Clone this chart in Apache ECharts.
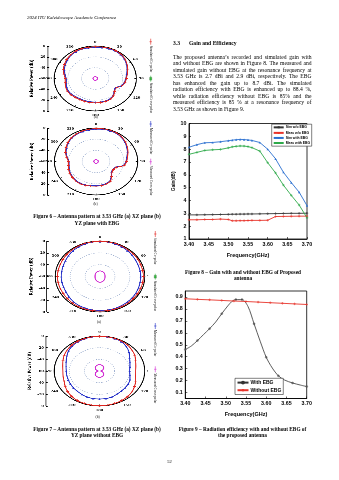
<!DOCTYPE html>
<html><head><meta charset="utf-8">
<script src="https://cdn.jsdelivr.net/npm/echarts@6/dist/echarts.min.js"></script>
<style>
html,body{margin:0;padding:0;background:#fff;overflow:hidden;}
#main{position:absolute;left:0;top:0;width:339px;height:480px;}
.pol{position:absolute;transform-origin:0 0;}
</style></head>
<body>
<div id="main"></div>
<div id="p6a" class="pol"></div><div id="p6b" class="pol"></div>
<div id="p7a" class="pol"></div><div id="p7b" class="pol"></div>
<script>
// ---------------- DATA ----------------
const angles10 = [0,10,20,30,40,50,60,70,80,90,100,110,120,130,140,150,160,170,180,190,200,210,220,230,240,250,260,270,280,290,300,310,320,330,340,350];
const angles30 = [0,30,60,90,120,150,180,210,240,270,300,330];
const angles15 = [0,15,30,45,60,75,90,105,120,135,150,165,180,195,210,225,240,255,270,285,300,315,330,345];

// Figure 6(a) XZ plane with EBG
const fig6aSimCo  = [-1.5,-1,-0.5,-0.5,-1.5,-3.5,-6.5,-9.5,-12.5,-14.5,-16,-19,-25,-23,-18.5,-16,-15,-15,-15,-15,-15,-15,-14.5,-13.5,-13,-14,-15.5,-16,-13.5,-10.5,-8,-5.5,-3.5,-2,-1.5,-1.5];
const fig6aMeasCo = [-2.5,-2,-1.5,-1.5,-2.5,-4.5,-7.5,-10.5,-13.5,-15.5,-17,-20,-26,-24,-19.5,-17,-16,-16,-16.5,-16.5,-16.5,-16.5,-16,-15,-14.5,-15.5,-17,-17.5,-15,-12,-9.5,-7,-4.5,-3,-2.5,-2.5];
const fig6aCross  = [-56.7,-56.8,-56.6,-56.7,-56.8,-56.7,-56.6,-56.7,-56.8,-56.7,-56.6,-56.7];
// Figure 6(b) YZ plane with EBG
const fig6bSimCo  = [-1,-0.5,-0.5,-1,-2.5,-5,-8,-11,-14,-16,-19,-29,-31,-30,-25,-19,-17,-16,-16,-15.5,-14.5,-14,-14.5,-15.5,-16.5,-18,-19.5,-20,-17,-13,-10,-7,-4.5,-3,-2,-1.5];
const fig6bMeasCo = [-2,-1.5,-1.5,-2,-3.5,-6,-9,-12,-15,-17,-20,-30,-32,-31,-26,-20,-18,-17,-17,-16.5,-15.5,-15,-15.5,-16.5,-17.5,-19,-20.5,-21,-18,-14,-11,-8,-5.5,-4,-3,-2.5];
const fig6bCross  = [-56.8,-56.9,-56.7,-56.8,-56.9,-56.8,-56.7,-56.8,-56.9,-56.8,-56.7,-56.8];
// Figure 7(a) XZ plane without EBG
const fig7aSimCo  = [-0.5,-0.5,-0.5,-1,-1.5,-1.5,-1.5,-2,-2,-2,-2,-2,-2,-2,-1.5,-1.5,-1.5,-1.5,-1.5,-1.5,-1.5,-1.5,-2,-2.5,-3,-3,-3,-3,-3,-3,-2.5,-2,-1.5,-1,-0.5,-0.5];
const fig7aMeasCo = [-1,-1,-1.5,-2,-3,-4,-5,-5.5,-5.5,-5.5,-5.5,-5,-4.5,-4,-3.5,-3,-2.5,-2.5,-2.5,-2.5,-3,-3.5,-4.5,-6,-7.5,-8,-8,-8,-8,-7.5,-6.5,-5,-3.5,-2.5,-1.5,-1];
const fig7aCross  = [-50.4,-51.3,-52.6,-53.3,-52.6,-51.3,-50.4,-51.3,-52.6,-53.3,-52.6,-51.3];
// Figure 7(b) YZ plane without EBG
const fig7bSimCo  = [-0.5,-0.5,-0.5,-1,-2,-4,-6,-9,-11,-12,-11.5,-9,-6.5,-4,-2.5,-1.5,-1,-0.5,-0.5,-0.5,-1,-1.5,-3,-5,-7.5,-10,-11,-11.5,-10.5,-8.5,-6,-4,-2.5,-1.5,-1,-0.5];
const fig7bMeasCo = [-0.5,-0.5,-1,-2,-5,-9,-14,-17,-19,-20,-19,-17,-16,-15.5,-15,-14,-12.5,-12,-12,-12,-12.5,-13.5,-14.5,-15,-15.5,-16,-16,-16,-15,-13,-10,-6.5,-4,-2.5,-1.5,-1];
const fig7bCross  = [-49.2,-49.5,-50.4,-52.2,-54.3,-56.7,-58.2,-56.7,-54.3,-52.2,-50.4,-49.5,-49.2,-49.5,-50.4,-52.2,-54.3,-56.7,-58.2,-56.7,-54.3,-52.2,-50.4,-49.5];

// Figure 8 gain
const gainFreq     = [3.40,3.42,3.44,3.46,3.48,3.50,3.51,3.52,3.53,3.54,3.55,3.56,3.58,3.60,3.62,3.64,3.66,3.68,3.70];
const gainSimNoEbg = [2.88,2.88,2.89,2.90,2.91,2.92,2.93,2.93,2.94,2.94,2.95,2.95,2.96,2.97,2.98,2.99,3.00,3.00,3.01];
const gainMeasNoEbg= [2.50,2.50,2.52,2.52,2.55,2.52,2.42,2.42,2.43,2.43,2.44,2.45,2.45,2.46,2.75,2.76,2.77,2.78,2.78];
const gainSimEbg   = [8.15,8.35,8.50,8.52,8.58,8.66,8.70,8.74,8.76,8.75,8.72,8.68,8.52,8.00,7.25,6.20,5.40,4.65,3.60];
const gainMeasEbg  = [7.60,7.75,7.90,7.95,7.98,8.10,8.18,8.22,8.25,8.24,8.20,8.12,7.85,6.95,6.15,5.20,4.40,3.65,2.65];
const gainNames = ['Sim w/o EBG','Meas w/o EBG','Sim with EBG','Meas with EBG'];

// Figure 9 efficiency
const effFreq    = [3.400,3.415,3.430,3.445,3.460,3.475,3.490,3.505,3.515,3.525,3.540,3.555,3.570,3.585,3.600,3.615,3.630,3.645,3.665,3.685,3.700];
const effWithEbg = [0.460,0.490,0.535,0.585,0.635,0.690,0.760,0.825,0.862,0.878,0.878,0.820,0.675,0.530,0.395,0.305,0.240,0.205,0.180,0.162,0.150];
const effMarkIdx = [0,2,4,6,9,10,12,14,16,18,20];
const effNoFreq  = [3.40,3.43,3.46,3.49,3.52,3.55,3.58,3.61,3.64,3.67,3.70];
const effNoEbg   = [0.885,0.880,0.876,0.871,0.866,0.862,0.857,0.852,0.847,0.842,0.837];
const effTicksY  = [0.1,0.2,0.3,0.4,0.5,0.6,0.7,0.8,0.9];
const effNames = ['With EBG','Without EBG'];

// ---------------- TEXT ----------------
const headerText = '2024 ITU Kaleidoscope Academic Conference';
const paraLines = [
 'The proposed antenna\u2019s recorded and simulated gain with',
 'and without EBG are shown in Figure 8. The measured and',
 'simulated gain without EBG at the resonance frequency at',
 '3.53 GHz is 2.7 dBi and 2.9 dBi, respectively. The EBG',
 'has enhanced the gain up to 8.7 dBi. The simulated',
 'radiation efficiency with EBG is enhanced up to 88.4 %,',
 'while radiation efficiency without EBG is 85%  and the',
 'measured efficiency is 85 % at a resonance frequency of',
 '3.53 GHz as shown in Figure 9.'
];

// ---------------- COLOURS ----------------
const RED='#e0241e', BLUE='#2430c8', MAG='#d22ed2', GRN='#2fc23a';
const crossSym = 'path://M0,5L10,5M5,0L5,10';

// ---------------- POLAR FIGURES ----------------
function pdata(vals, angs){ const d = angs.map((a,i)=>[vals[i], a]); d.push([vals[0], 360]); return d; }

function polarFig(id, f){
  const s = f.rx / f.ry;
  const X0 = 22, X1 = 148;
  const top = f.cy - f.ry - 8, H = 2*f.ry + 16;
  const W = (X1 - X0) / s;
  const el = document.getElementById(id);
  el.style.left = X0+'px'; el.style.top = top+'px';
  el.style.width = W+'px'; el.style.height = H+'px';
  el.style.transform = 'scaleX('+s+')';
  const ch = echarts.init(el, null, {width:W, height:H, devicePixelRatio:3});
  const cxL = (f.cx - X0)/s, cyL = f.cy - top;
  const axL = (f.axisX - X0)/s;
  const lab = {fontFamily:'Liberation Serif', fontWeight:'bold', fontSize:3.8, color:'#000'};
  ch.setOption({
    animation:false,
    polar:{center:[cxL, cyL], radius:f.ry},
    angleAxis:{type:'value', min:0, max:360, interval:30, startAngle:90, clockwise:true,
      axisLine:{lineStyle:{color:'#000', width:0.8}},
      axisTick:{show:true, inside:true, length:1.5, lineStyle:{color:'#000',width:0.5}},
      axisLabel:Object.assign({margin:2, formatter:v=> v===360?'':String(v)}, lab),
      splitLine:{show:false}},
    radiusAxis:{type:'value', min:-60, max:0, interval:20,
      axisLine:{show:false}, axisTick:{show:false}, axisLabel:{show:false},
      splitLine:{show:true, lineStyle:{color:'#9fb0d0', type:[1,1], width:0.5}}},
    grid:{left:axL, top:cyL - f.ry, width:4, height:2*f.ry},
    xAxis:{type:'value', show:false, min:0, max:1},
    yAxis:{type:'value', min:0, max:120, interval:20, position:'left',
      axisLine:{show:true, lineStyle:{color:'#000', width:0.6}},
      axisTick:{show:true, inside:true, length:1.5, lineStyle:{color:'#000', width:0.5}},
      splitLine:{show:false},
      axisLabel:Object.assign({margin:1.5, formatter:v=>{const d = v>=60 ? v-120 : -v; return d===0?'0':String(d);}}, lab),
      name:'Relative Power (dB)', nameLocation:'middle', nameRotate:90, nameGap:f.nameGap,
      nameTextStyle:{fontFamily:'Liberation Serif', fontWeight:'bold', fontSize:4.4, color:'#000'}},
    series:[
      {type:'line', coordinateSystem:'polar', data:pdata(f.meas, angles10), smooth:0.3,
       lineStyle:{color:BLUE, width:0.8}, itemStyle:{color:BLUE}, symbol:'triangle', symbolSize:1.8},
      {type:'line', coordinateSystem:'polar', data:pdata(f.sim, angles10), smooth:0.3,
       lineStyle:{color:RED, width:0.8}, itemStyle:{color:RED, borderColor:RED, borderWidth:0.5}, symbol:crossSym, symbolSize:2.2},
      {type:'line', coordinateSystem:'polar', data:pdata(f.cross, f.crossAng), smooth:0.5,
       lineStyle:{color:MAG, width:0.9}, itemStyle:{color:MAG}, symbol:'none'}
    ]
  });
}

polarFig('p6a', {cx:95.5, cy:78,    rx:41.2, ry:32.5, axisX:47.3, nameGap:9.5, sim:fig6aSimCo, meas:fig6aMeasCo, cross:fig6aCross, crossAng:angles30});
polarFig('p6b', {cx:95.8, cy:161.7, rx:41.5, ry:33.5, axisX:47.3, nameGap:9.5, sim:fig6bSimCo, meas:fig6bMeasCo, cross:fig6bCross, crossAng:angles30});
polarFig('p7a', {cx:99.5, cy:276.5, rx:44.5, ry:35.5, axisX:46.7, nameGap:9.5, sim:fig7aSimCo, meas:fig7aMeasCo, cross:fig7aCross, crossAng:angles30});
polarFig('p7b', {cx:99.2, cy:371.3, rx:45.1, ry:35,   axisX:45.7, nameGap:9.5, sim:fig7bSimCo, meas:fig7bMeasCo, cross:fig7bCross, crossAng:angles15});

// ---------------- MAIN (text + cartesian) ----------------
const main = echarts.init(document.getElementById('main'), null, {width:339, height:480});
const g = [];
const SERIF = 'Liberation Serif', SANS='Liberation Sans';
function txt(t, x, y, o){
  o = o || {};
  g.push({type:'text', x:x, y:y, rotation:o.rot||0, silent:true,
    style:{text:t, fontFamily:o.ff||SERIF, fontSize:o.fs||5.5, fontWeight:o.fw||'normal', fontStyle:o.fst||'normal',
      fill:o.fill||'#000', align:o.align||'left', verticalAlign:'middle'}});
}
txt(headerText, 27, 17.7, {fs:4.8, fst:'italic'});
txt('3.3', 173, 43.3, {fs:5.6, fw:'bold'});
txt('Gain and Efficiency', 189, 43.3, {fs:5.6, fw:'bold'});
(function(){
  const cv = document.createElement('canvas').getContext('2d');
  const fs = 5.6; cv.font = fs+'px "'+SERIF+'"';
  const L = 173, R = 311.5;
  paraLines.forEach((line, i)=>{
    const y = 57.2 + i*6.48;
    if (i === paraLines.length-1) { txt(line, L, y, {fs:fs}); return; }
    const words = line.split(/\s+/);
    const ws = words.map(w=>cv.measureText(w).width);
    const tot = ws.reduce((a,b)=>a+b,0);
    const gap = (R - L - tot)/(words.length-1);
    let x = L;
    words.forEach((w,j)=>{ txt(w, x, y, {fs:fs}); x += ws[j] + gap; });
  });
})();
txt('Figure 6 \u2013 Antenna pattern at 3.53 GHz (a) XZ plane (b)', 97, 216.8, {fs:5.3, fw:'bold', align:'center'});
txt('YZ plane with EBG', 97, 223.2, {fs:5.3, fw:'bold', align:'center'});
txt('Figure 7 \u2013 Antenna pattern at 3.53 GHz (a) XZ plane (b)', 97, 429.2, {fs:5.3, fw:'bold', align:'center'});
txt('YZ plane without EBG', 97, 435.8, {fs:5.3, fw:'bold', align:'center'});
txt('Figure 8 \u2013 Gain with and without EBG of Proposed', 243, 272.2, {fs:5.3, fw:'bold', align:'center'});
txt('antenna', 243, 278.6, {fs:5.3, fw:'bold', align:'center'});
txt('Figure 9 \u2013 Radiation efficiency with and without EBG of', 242.5, 429.2, {fs:5.3, fw:'bold', align:'center'});
txt('the proposed antenna', 242.5, 435.8, {fs:5.3, fw:'bold', align:'center'});
txt('(a)', 95.7, 117.5, {fs:3.6, align:'center'});
txt('(b)', 95.5, 204.3, {fs:3.6, align:'center'});
txt('(a)', 99, 322.3, {fs:3.6, align:'center'});
txt('(b)', 97.7, 417.3, {fs:3.6, align:'center'});
txt('52', 169.5, 461.7, {fs:4.5, align:'center'});
function vleg(x, y, color, sym, label){
  g.push({type:'line', silent:true, shape:{x1:x, y1:y-3, x2:x, y2:y+3}, style:{stroke:color, lineWidth:0.6}});
  if (sym==='cross') g.push({type:'polyline', silent:true, shape:{points:[[x-1.2,y],[x+1.2,y]]}, style:{stroke:color, lineWidth:0.6}});
  else g.push({type:'rect', silent:true, shape:{x:x-1.1, y:y-1.4, width:2.2, height:2.8}, style:{fill:color, stroke:'#555', lineWidth:0.3}});
  txt(label, x, y+4, {fs:3.4, rot:-Math.PI/2});
}
vleg(150.7, 41.7, RED, 'cross', 'Simulated Co-polar');
vleg(150.7, 78.7, GRN, 'box', 'Simulated Cross-polar');
vleg(150.7, 124, BLUE, 'cross', 'Measured Co-polar');
vleg(150.7, 161.7, MAG, 'cross', 'Measured Cross-polar');
vleg(155.3, 234, RED, 'cross', 'Simulated Co-polar');
vleg(155.3, 276.7, GRN, 'box', 'Simulated Cross-polar');
vleg(155.3, 326, BLUE, 'cross', 'Measured Co-polar');
vleg(155.3, 369.3, MAG, 'cross', 'Measured Cross-polar');

function zip(xs, ys){ return xs.map((x,i)=>[x, ys[i]]); }
const axBase = {axisLine:{show:true, onZero:false, lineStyle:{color:'#000', width:0.8}},
  axisTick:{show:true, inside:true, length:2, lineStyle:{color:'#000', width:0.6}},
  splitLine:{show:false}};
const labStyle = {fontFamily:SANS, fontWeight:'bold', fontSize:5.3, color:'#000'};
function xAx(gi, gap){
  return Object.assign({gridIndex:gi, type:'value', min:3.4, max:3.7, interval:0.05,
    axisLabel:Object.assign({margin:3, formatter:v=>v.toFixed(2)}, labStyle),
    name:'Frequency(GHz)', nameLocation:'middle', nameGap:gap,
    nameTextStyle:{fontFamily:SANS, fontWeight:'bold', fontSize:5.5, color:'#000'}}, axBase);
}

main.setOption({
  animation:false,
  grid:[{left:189, top:123.5, width:118, height:115.5, show:true, borderColor:'#000', borderWidth:0.8},
        {left:185.3, top:291, width:121.4, height:107.5, show:true, borderColor:'#000', borderWidth:0.8}],
  xAxis:[xAx(0, 13.5), xAx(1, 12.5)],
  yAxis:[Object.assign({gridIndex:0, type:'value', min:1, max:10, interval:1,
           axisLabel:Object.assign({margin:2.5}, labStyle),
           name:'Gain(dB)', nameLocation:'middle', nameRotate:90, nameGap:8.5,
           nameTextStyle:{fontFamily:SANS, fontWeight:'bold', fontSize:4.6, color:'#000'}}, axBase),
         Object.assign({gridIndex:1, type:'value', min:0.05, max:0.95,
           axisLabel:Object.assign({margin:2.5, customValues:effTicksY, formatter:v=>v.toFixed(1)}, labStyle)}, axBase,
           {axisTick:{show:true, inside:true, length:2, customValues:effTicksY, lineStyle:{color:'#000', width:0.6}}})],
  legend:[
    {data:gainNames, orient:'vertical', left:271.7, top:124.2, itemWidth:10, itemHeight:2.4, itemGap:1.6,
     padding:[1.2,1.5,1.2,1], borderColor:'#000', borderWidth:0.5, backgroundColor:'#fff',
     textStyle:{fontFamily:SANS, fontWeight:'bold', fontSize:3.4, color:'#000', padding:[0,0,0,-3]}},
    {data:effNames, orient:'vertical', left:235, top:378.3, itemWidth:11, itemHeight:2.4, itemGap:2.6,
     padding:[1.8,2,1.8,1.5], borderColor:'#000', borderWidth:0.5, backgroundColor:'#fff',
     textStyle:{fontFamily:SANS, fontWeight:'bold', fontSize:5, color:'#000', padding:[0,0,0,-3]}}
  ],
  series:[
    {name:gainNames[0], type:'line', xAxisIndex:0, yAxisIndex:0, data:zip(gainFreq,gainSimNoEbg),
     symbol:crossSym, symbolSize:2.5, lineStyle:{color:'#333', width:0.9}, itemStyle:{color:'#333', borderColor:'#333', borderWidth:0.6}},
    {name:gainNames[1], type:'line', xAxisIndex:0, yAxisIndex:0, data:zip(gainFreq,gainMeasNoEbg),
     symbol:crossSym, symbolSize:2.5, lineStyle:{color:'#e8332a', width:0.9}, itemStyle:{color:'#e8332a', borderColor:'#e8332a', borderWidth:0.6}},
    {name:gainNames[2], type:'line', xAxisIndex:0, yAxisIndex:0, data:zip(gainFreq,gainSimEbg),
     symbol:'triangle', symbolSize:2.2, lineStyle:{color:'#2a6fd0', width:0.9}, itemStyle:{color:'#2a6fd0'}},
    {name:gainNames[3], type:'line', xAxisIndex:0, yAxisIndex:0, data:zip(gainFreq,gainMeasEbg),
     symbol:crossSym, symbolSize:2.5, lineStyle:{color:'#2eaa4a', width:0.9}, itemStyle:{color:'#2eaa4a', borderColor:'#2eaa4a', borderWidth:0.6}},
    {name:effNames[0], type:'line', xAxisIndex:1, yAxisIndex:1, data:zip(effFreq,effWithEbg), smooth:0.3,
     showSymbol:false, symbol:'circle', symbolSize:2, lineStyle:{color:'#333', width:0.8}, itemStyle:{color:'#777', borderColor:'#333', borderWidth:0.4}},
    {name:'effMarks', type:'scatter', xAxisIndex:1, yAxisIndex:1, data:effMarkIdx.map(i=>[effFreq[i], effWithEbg[i]]),
     symbol:'circle', symbolSize:2, itemStyle:{color:'#777', borderColor:'#333', borderWidth:0.4}},
    {name:effNames[1], type:'line', xAxisIndex:1, yAxisIndex:1, data:zip(effNoFreq,effNoEbg),
     symbol:crossSym, symbolSize:2.5, lineStyle:{color:'#e8332a', width:0.9}, itemStyle:{color:'#e8332a', borderColor:'#e8332a', borderWidth:0.6}}
  ],
  graphic:g
});
</script>
</body></html>
